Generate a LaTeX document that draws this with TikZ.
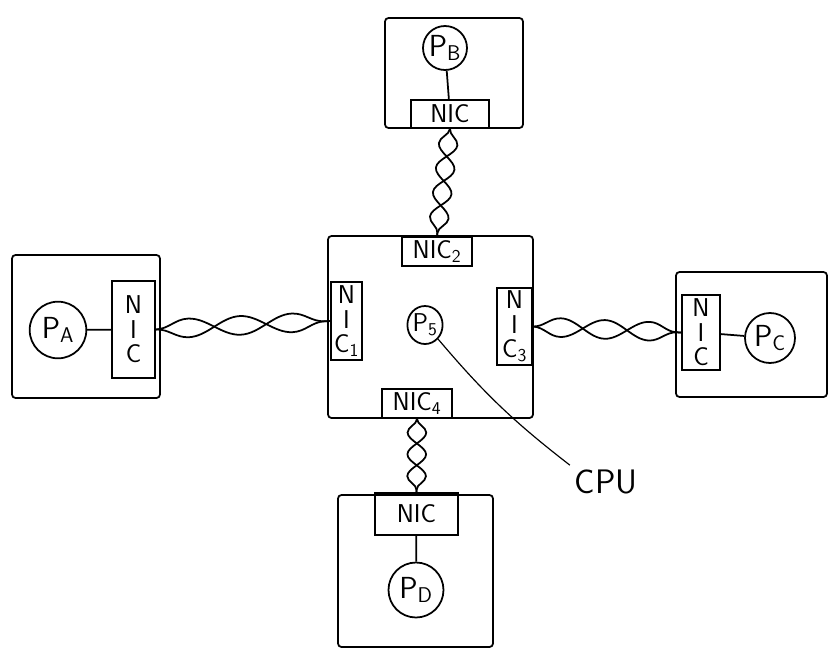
\documentclass[tikz,border=0pt]{standalone}
\usepackage{fontspec}
\usetikzlibrary{shapes.geometric,decorations.pathmorphing}
\begin{document}
\begin{tikzpicture}[x=0.03cm, y=-0.03cm, line width=1.5pt,
    every node/.style={font=\sffamily\fontsize{22}{21}\selectfont},
    host/.style={draw, rounded corners=3pt},
    nic/.style={draw, inner sep=1pt, align=center, font=\sffamily\fontsize{22}{21}\selectfont\addfontfeature{LetterSpace=25}},
    proc/.style={draw, circle, inner sep=0pt, font=\sffamily\fontsize{26}{26}\selectfont},
    wire/.style={decorate, decoration={snake, amplitude=0.28cm, segment length=#1}}]
  \useasboundingbox (0,0) rectangle (834,664);
  % central machine with four cards
  \node[host, minimum width=6.15cm, minimum height=5.46cm] (hs) at (430.5,327) {};
  \node[nic, minimum width=2.1cm, minimum height=0.87cm]  (n2) at (437,251.5) {NIC\textsubscript{2}};
  \node[nic, minimum width=0.93cm, minimum height=2.34cm] (n1) at (346.5,321) {N\\I\\C\textsubscript{1}};
  \node[nic, minimum width=1.05cm, minimum height=2.31cm] (n3) at (514.5,326.5) {N\\I\\C\textsubscript{3}};
  \node[nic, minimum width=2.1cm, minimum height=0.87cm]  (n4) at (417,403.5) {NIC\textsubscript{4}};
  \node[draw, ellipse, inner sep=0pt, minimum width=1.02cm, minimum height=1.14cm,
        font=\sffamily\fontsize{22}{22}\selectfont] (p5) at (425,325) {P\textsubscript{5}};
  \node[font=\sffamily\fontsize{29}{29}\selectfont] (cpu) at (606,482) {CPU};
  \draw[line width=1pt] (p5.south east) to[bend right=6] (cpu.north west);

  % host A (left)
  \node[host, minimum width=4.44cm, minimum height=4.29cm] (ha) at (86,326.5) {};
  \node[nic, minimum width=1.29cm, minimum height=2.91cm] (na) at (133.5,329.5) {N\\I\\C};
  \node[proc, minimum size=1.7cm] (pa) at (58,330) {P\textsubscript{A}};
  \draw (pa) -- (na);

  % host B (top)
  \node[host, minimum width=4.14cm, minimum height=3.3cm] (hb) at (454,73) {};
  \node[nic, minimum width=2.34cm, minimum height=0.84cm] (nb) at (450,114) {NIC};
  \node[proc, minimum size=1.32cm] (pb) at (445,48) {P\textsubscript{B}};
  \draw (pb) -- (nb);

  % host C (right)
  \node[host, minimum width=4.53cm, minimum height=3.75cm] (hc) at (751.5,334.5) {};
  \node[nic, minimum width=1.14cm, minimum height=2.25cm] (nc) at (701,332.5) {N\\I\\C};
  \node[proc, minimum size=1.5cm] (pc) at (770,338) {P\textsubscript{C}};
  \draw (nc) -- (pc);

  % host D (bottom)
  \node[host, minimum width=4.65cm, minimum height=4.56cm] (hd) at (415.5,571) {};
  \node[nic, minimum width=2.49cm, minimum height=1.26cm] (nd) at (416.5,514) {NIC};
  \node[proc, minimum size=1.65cm] (pd) at (416,590) {P\textsubscript{D}};
  \draw (nd) -- (pd);

  % twisted pair cables
  \draw[wire=3.12cm] (na.east) -- (n1.west);
  \draw[wire=3.12cm, decoration={mirror}] (na.east) -- (n1.west);
  \draw[wire=1.48cm] (nb.south) -- (n2.north);
  \draw[wire=1.48cm, decoration={mirror}] (nb.south) -- (n2.north);
  \draw[wire=2.66cm] (n3.east) -- (nc.west);
  \draw[wire=2.66cm, decoration={mirror}] (n3.east) -- (nc.west);
  \draw[wire=1.31cm] (n4.south) -- (nd.north);
  \draw[wire=1.31cm, decoration={mirror}] (n4.south) -- (nd.north);
\end{tikzpicture}
\end{document}
